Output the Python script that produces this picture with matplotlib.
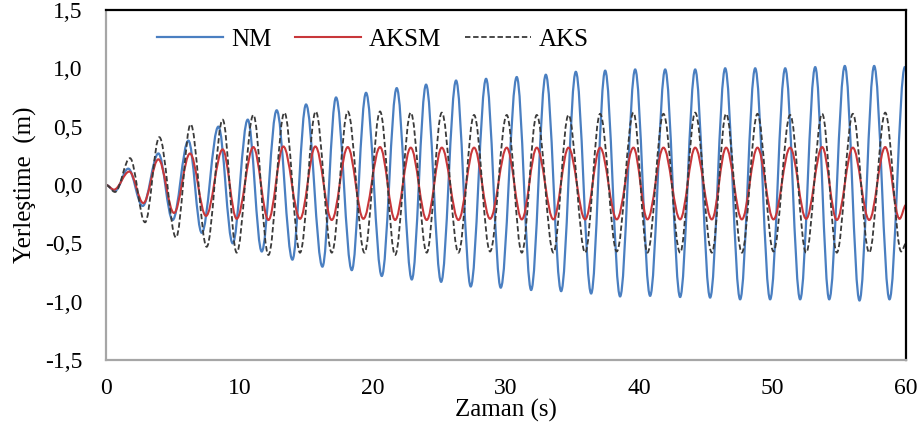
import matplotlib
matplotlib.use("Agg")
from matplotlib import pyplot as plt
from matplotlib.path import Path
from matplotlib.patches import PathPatch
from matplotlib.lines import Line2D

plt.rcParams['font.family'] = ['Liberation Serif', 'DejaVu Serif']

# tepe / çukur noktaları (s, m)
nm_t = [0, 0.68, 1.67, 2.75, 3.93, 5.0, 6.18, 7.18, 8.43, 9.5, 10.63, 11.68, 12.8, 13.98,
        15.0, 16.23, 17.25, 18.43, 19.5, 20.68, 21.8, 22.93, 24.0, 25.13, 26.25, 27.35,
        28.5, 29.6, 30.8, 31.88, 32.98, 34.13, 35.23, 36.38, 37.43, 38.55, 39.68, 40.8,
        41.93, 43.05, 44.18, 45.3, 46.43, 47.55, 48.68, 49.8, 50.93, 52.05, 53.18, 54.23,
        55.4, 56.5, 57.6, 58.75, 59.9, 60.0]
nm_v = [0, -0.05, 0.14, -0.18, 0.27, -0.30, 0.38, -0.41, 0.50, -0.50, 0.56, -0.57, 0.64, -0.64,
        0.69, -0.70, 0.75, -0.73, 0.79, -0.78, 0.83, -0.81, 0.86, -0.83, 0.895, -0.87,
        0.91, -0.88, 0.925, -0.90, 0.945, -0.91, 0.97, -0.93, 0.98, -0.955, 0.99, -0.95,
        0.99, -0.96, 0.99, -0.965, 1.0, -0.98, 1.0, -0.98, 1.0, -0.98, 1.01, -0.98,
        1.02, -0.99, 1.02, -0.98, 1.01, 1.0]

aks_t = [0, 0.68, 1.8, 2.93, 4.0, 5.25, 6.35, 7.55, 8.75, 9.8, 11.05, 12.18, 13.38, 14.55,
         15.73, 16.93, 18.13, 19.38, 20.55, 21.68, 22.85, 24.05, 25.18, 26.43, 27.6, 28.8,
         30.05, 31.18, 32.3, 33.55, 34.68, 35.93, 37.05, 38.3, 39.55, 40.6, 41.8, 43.05,
         44.18, 45.43, 46.5, 47.68, 48.85, 50.05, 51.3, 52.5, 53.7, 54.8, 56.0, 57.23,
         58.43, 59.63, 60.0]
aks_v = [0, -0.06, 0.23, -0.32, 0.41, -0.45, 0.52, -0.53, 0.56, -0.58, 0.60, -0.60, 0.62, -0.58,
         0.63, -0.58, 0.63, -0.58, 0.63, -0.60, 0.62, -0.58, 0.62, -0.58, 0.60, -0.57,
         0.60, -0.58, 0.60, -0.58, 0.60, -0.58, 0.61, -0.57, 0.62, -0.58, 0.61, -0.58,
         0.62, -0.58, 0.61, -0.58, 0.61, -0.57, 0.60, -0.58, 0.61, -0.58, 0.61, -0.58,
         0.62, -0.57, -0.50]

aksm_t = [0, 0.6, 1.75, 2.8, 3.93, 5.1, 6.3, 7.5, 8.75, 9.8, 11.05, 12.18, 13.3, 14.55,
          15.7, 16.93, 18.13, 19.3, 20.55, 21.68, 22.85, 24.05, 25.18, 26.43, 27.6, 28.8,
          30.05, 31.18, 32.3, 33.55, 34.68, 35.93, 37.05, 38.3, 39.55, 40.6, 41.8, 43.05,
          44.18, 45.43, 46.5, 47.68, 48.85, 50.05, 51.3, 52.5, 53.7, 54.8, 56.0, 57.23,
          58.43, 59.5, 60.0]
aksm_v = [0, -0.04, 0.115, -0.155, 0.22, -0.24, 0.27, -0.265, 0.305, -0.29, 0.325, -0.30, 0.33, -0.29,
          0.33, -0.30, 0.325, -0.29, 0.325, -0.30, 0.32, -0.30, 0.32, -0.30, 0.32, -0.29,
          0.32, -0.295, 0.32, -0.295, 0.32, -0.295, 0.32, -0.295, 0.32, -0.295, 0.32, -0.295,
          0.32, -0.295, 0.32, -0.295, 0.32, -0.295, 0.32, -0.29, 0.325, -0.30, 0.32, -0.30,
          0.325, -0.29, -0.17]

x_ticks = [0, 10, 20, 30, 40, 50, 60]
y_ticks = [-1.5, -1.0, -0.5, 0.0, 0.5, 1.0, 1.5]
y_labels = ["-1,5", "-1,0", "-0,5", "0,0", "0,5", "1,0", "1,5"]


def smooth_path(t, v, k=0.36):
    # uç noktalar arasında yatay teğetli bezier eğrisi
    verts = [(t[0], v[0])]
    codes = [Path.MOVETO]
    for i in range(1, len(t)):
        dt = t[i] - t[i - 1]
        verts += [(t[i - 1] + k * dt, v[i - 1]), (t[i] - k * dt, v[i]), (t[i], v[i])]
        codes += [Path.CURVE4] * 3
    return Path(verts, codes)


fig = plt.figure(figsize=(9.24, 4.32), dpi=100)
ax = fig.add_axes([0.1147, 0.1667, 0.866, 0.8102])

c_nm = "#4a7fc1"
c_aksm = "#c8373a"
c_aks = "#3a3a3a"
dash = (0, (3, 1.5))

ax.add_patch(PathPatch(smooth_path(nm_t, nm_v), fill=False, edgecolor=c_nm, lw=1.6))
ax.add_patch(PathPatch(smooth_path(aksm_t, aksm_v), fill=False, edgecolor=c_aksm, lw=1.5))
ax.add_patch(PathPatch(smooth_path(aks_t, aks_v), fill=False, edgecolor=c_aks, lw=1.3,
                       linestyle=dash))

ax.set_xlim(0, 60)
ax.set_ylim(-1.5, 1.5)
ax.set_xticks(x_ticks)
ax.set_yticks(y_ticks)
ax.set_yticklabels(y_labels)
ax.tick_params(axis="both", length=0, labelsize=17)
ax.tick_params(axis="x", pad=13)
ax.tick_params(axis="y", pad=17)

for s in ["top", "right"]:
    ax.spines[s].set_color("black")
    ax.spines[s].set_linewidth(1.6)
for s in ["left", "bottom"]:
    ax.spines[s].set_color("#a6a6a6")
    ax.spines[s].set_linewidth(1.6)

ax.set_xlabel("Zaman (s)", fontsize=18, labelpad=0)
ax.set_ylabel("Yerleştime  (m)", fontsize=18, labelpad=6)

handles = [Line2D([], [], color=c_nm, lw=1.6),
           Line2D([], [], color=c_aksm, lw=1.5),
           Line2D([], [], color=c_aks, lw=1.3, linestyle=dash)]
ax.legend(handles, ["NM", "AKSM", "AKS"], ncol=3, frameon=False, fontsize=18,
          loc="center left", bbox_to_anchor=(0.064, 0.915), handlelength=2.65,
          columnspacing=0.95, handletextpad=0.3, borderpad=0, borderaxespad=0)

plt.savefig("out.png", dpi=100)
